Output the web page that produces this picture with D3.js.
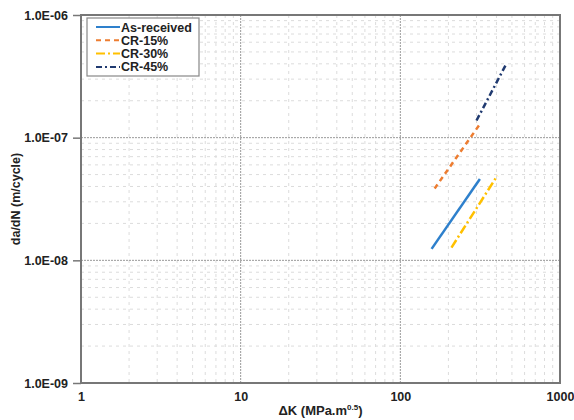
<!DOCTYPE html>
<html>
<head>
<meta charset="utf-8">
<script src="https://cdn.jsdelivr.net/npm/d3@7"></script>
<style>
  body { margin: 0; background: #fff; }
  text { font-family: "Liberation Sans", Arial, sans-serif; font-weight: bold; fill: #222; }
</style>
</head>
<body>
<div id="chart"></div>
<script>
// series: endpoints of each fitted line (dK, da/dN)
var seriesNames = ["As-received", "CR-15%", "CR-30%", "CR-45%"];
var asReceived = [[157, 1.24e-8], [315, 4.6e-8]];
var cr15 = [[164, 3.85e-8], [315, 1.29e-7]];
var cr30 = [[209, 1.27e-8], [405, 4.9e-8]];
var cr45 = [[300, 1.38e-7], [459, 3.95e-7]];
var xTicks = [1, 10, 100, 1000];
var yTicks = [1e-9, 1e-8, 1e-7, 1e-6];

var series = [
  { name: seriesNames[0], pts: asReceived, color: "#2e80cc", dash: null },
  { name: seriesNames[1], pts: cr15, color: "#ed7d31", dash: "5,4" },
  { name: seriesNames[2], pts: cr30, color: "#ffc000", dash: "9,3,2,3" },
  { name: seriesNames[3], pts: cr45, color: "#203a70", dash: "6,3,2,3" }
];

var margin = { top: 15, right: 14, bottom: 37, left: 81 },
    width = 574 - margin.left - margin.right,
    height = 420 - margin.top - margin.bottom;

var svg = d3.select("#chart").append("svg")
    .attr("width", 574)
    .attr("height", 420);

var g = svg.append("g")
    .attr("transform", "translate(" + margin.left + "," + margin.top + ")");

var x = d3.scaleLog().domain([1, 1000]).range([0, width]);
var y = d3.scaleLog().domain([1e-9, 1e-6]).range([height, 0]);

// minor grid
var minorX = [], minorY = [];
[1, 10, 100].forEach(function (d) {
  for (var k = 2; k <= 9; k++) minorX.push(d * k);
});
[1e-9, 1e-8, 1e-7].forEach(function (d) {
  for (var k = 2; k <= 9; k++) minorY.push(d * k);
});

g.selectAll(".minx").data(minorX).enter().append("line")
  .attr("x1", function (d) { return x(d); })
  .attr("x2", function (d) { return x(d); })
  .attr("y1", 0).attr("y2", height)
  .attr("stroke", "#dcdcdc").attr("stroke-width", 1)
  .attr("stroke-dasharray", "3,4");

g.selectAll(".miny").data(minorY).enter().append("line")
  .attr("y1", function (d) { return y(d); })
  .attr("y2", function (d) { return y(d); })
  .attr("x1", 0).attr("x2", width)
  .attr("stroke", "#dcdcdc").attr("stroke-width", 1)
  .attr("stroke-dasharray", "3,4");

// major grid
g.selectAll(".majx").data(xTicks.slice(1, -1)).enter().append("line")
  .attr("x1", function (d) { return x(d); })
  .attr("x2", function (d) { return x(d); })
  .attr("y1", 0).attr("y2", height)
  .attr("stroke", "#999").attr("stroke-width", 1)
  .attr("stroke-dasharray", "2,1");

g.selectAll(".majy").data(yTicks.slice(1, -1)).enter().append("line")
  .attr("y1", function (d) { return y(d); })
  .attr("y2", function (d) { return y(d); })
  .attr("x1", 0).attr("x2", width)
  .attr("stroke", "#999").attr("stroke-width", 1)
  .attr("stroke-dasharray", "2,1");

// axes
var yAxis = d3.axisLeft(y).tickValues(yTicks)
  .tickFormat(function (d) { return d.toExponential(1).toUpperCase().replace(/E-(\d)$/, "E-0$1"); })
  .tickSize(8).tickPadding(5);
var yg = g.append("g").call(yAxis);
yg.select(".domain").remove();
yg.selectAll("line").attr("stroke", "#777").attr("stroke-width", 1.5);
yg.selectAll("text").style("font-size", "12.5px").attr("fill", "#222");

var xAxis = d3.axisBottom(x).tickValues(xTicks)
  .tickFormat(d3.format("d")).tickSize(0).tickPadding(9);
var xg = g.append("g").attr("transform", "translate(0," + height + ")").call(xAxis);
xg.select(".domain").remove();
xg.selectAll("text").style("font-size", "12.5px").attr("fill", "#222");

// border
g.append("rect")
  .attr("x", 0).attr("y", 0)
  .attr("width", width).attr("height", height)
  .attr("fill", "none").attr("stroke", "#777").attr("stroke-width", 2);

// series lines
var line = d3.line()
  .x(function (d) { return x(d[0]); })
  .y(function (d) { return y(d[1]); });

g.selectAll(".series").data(series).enter().append("path")
  .attr("d", function (d) { return line(d.pts); })
  .attr("fill", "none")
  .attr("stroke", function (d) { return d.color; })
  .attr("stroke-width", 2.5)
  .attr("stroke-dasharray", function (d) { return d.dash; });

// legend
var lg = g.append("g").attr("transform", "translate(6,3)");
lg.append("rect")
  .attr("width", 112).attr("height", 58)
  .attr("fill", "#fff").attr("stroke", "#888").attr("stroke-width", 1.2);

var item = lg.selectAll(".item").data(series).enter().append("g")
  .attr("transform", function (d, i) { return "translate(0," + (9 + i * 13.3) + ")"; });
item.append("line")
  .attr("x1", 9).attr("x2", 33).attr("y1", 0).attr("y2", 0)
  .attr("stroke", function (d) { return d.color; })
  .attr("stroke-width", 2)
  .attr("stroke-dasharray", function (d) { return d.dash; });
item.append("text")
  .attr("x", 34).attr("y", 4.5)
  .style("font-size", "12.5px")
  .text(function (d) { return d.name; });

// axis titles
var xt = svg.append("text")
  .attr("x", margin.left + width / 2)
  .attr("y", 415)
  .attr("text-anchor", "middle")
  .style("font-size", "13px");
xt.append("tspan").text("\u0394K (MPa.m");
xt.append("tspan").attr("dy", -5).style("font-size", "8px").text("0.5");
xt.append("tspan").attr("dy", 5).text(")");

svg.append("text")
  .attr("transform", "translate(20," + (margin.top + height / 2) + ") rotate(-90)")
  .attr("text-anchor", "middle")
  .style("font-size", "12.5px")
  .text("da/dN (m/cycle)");
</script>
</body>
</html>
